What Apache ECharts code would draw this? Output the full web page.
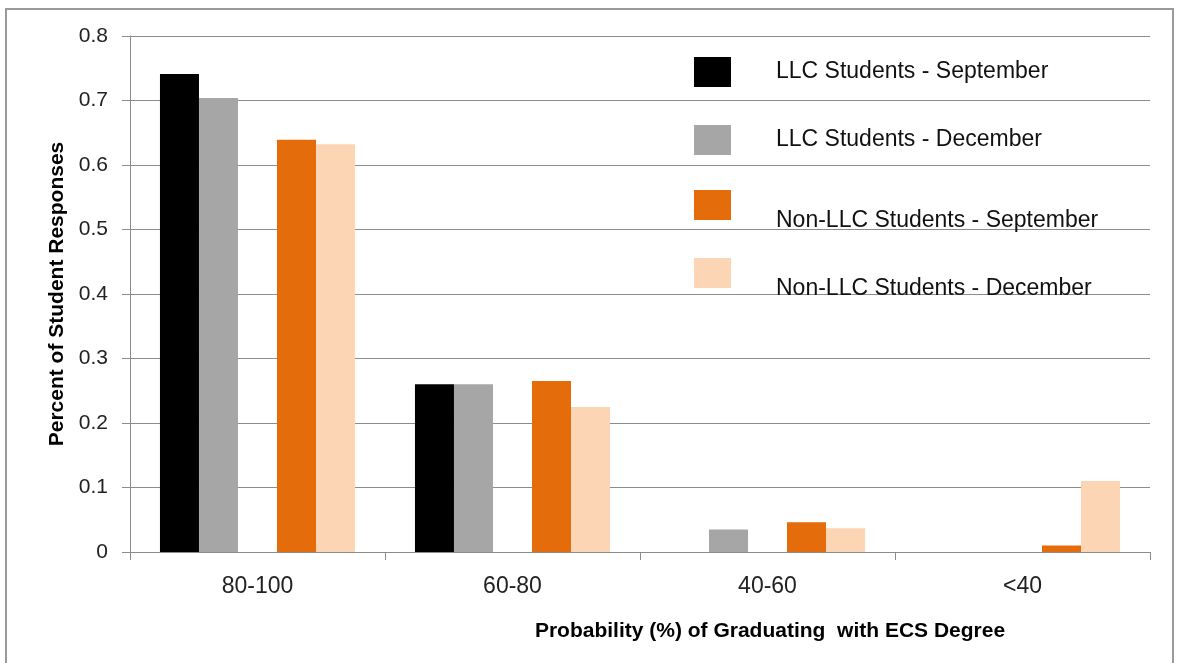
<!DOCTYPE html>
<html>
<head>
<meta charset="utf-8">
<script src="https://cdn.jsdelivr.net/npm/echarts@6/dist/echarts.min.js"></script>
<style>
  html, body { margin: 0; padding: 0; background: #fff; }
  #chart { width: 1177px; height: 663px; }
</style>
</head>
<body>
<div id="chart"></div>
<script>
// Probability bands on the x axis
const categories = ['80-100', '60-80', '40-60', '<40'];

// Share of responses per band
const llcSeptember = [0.741, 0.26, 0, 0];
const llcDecember = [0.704, 0.26, 0.035, 0];
const nonLlcSeptember = [0.639, 0.265, 0.046, 0.01];
const nonLlcDecember = [0.632, 0.225, 0.037, 0.11];

const seriesNames = [
  'LLC Students - September',
  'LLC Students - December',
  'Non-LLC Students - September',
  'Non-LLC Students - December'
];
const seriesColors = ['#000000', '#a6a6a6', '#e46c0a', '#fcd5b5'];

const FONT = '"Liberation Sans", Arial, sans-serif';
const GRID_COLOR = '#8c8c8c';

const chart = echarts.init(document.getElementById('chart'), null, { renderer: 'canvas' });

function barSeries(name, data, color) {
  return {
    name: name,
    type: 'bar',
    data: data,
    itemStyle: { color: color },
    barGap: '0%',
    barCategoryGap: '23.5%',
    emphasis: { disabled: true }
  };
}

// One legend block per series so each entry can sit at its own height;
// "lowered" entries put their label half a line below the swatch centre
function legendEntry(name, top, lowered) {
  return {
    data: [name],
    left: 694,
    top: top,
    padding: 0,
    orient: 'vertical',
    icon: 'rect',
    itemWidth: 37,
    itemHeight: 30,
    selectedMode: false,
    formatter: lowered ? function (n) { return '\n' + n; } : '{name}',
    textStyle: {
      fontFamily: FONT,
      fontSize: 23,
      lineHeight: lowered ? 32 : 28,
      color: '#111',
      padding: [0, 0, 0, 40]
    }
  };
}

const option = {
  backgroundColor: '#fff',
  animation: false,
  grid: { left: 130, right: 27, top: 36, bottom: 111, containLabel: false },
  legend: [
    legendEntry(seriesNames[0], 57, false),
    legendEntry(seriesNames[1], 125, false),
    legendEntry(seriesNames[2], 173, true),
    legendEntry(seriesNames[3], 241, true)
  ],
  title: [
    {
      text: 'Probability (%) of Graduating  with ECS Degree',
      left: 765,
      top: 616,
      textAlign: 'center',
      textStyle: { fontFamily: FONT, fontSize: 21, fontWeight: 'bold', color: '#000' }
    }
  ],
  xAxis: {
    type: 'category',
    data: categories,
    axisLine: { show: true, lineStyle: { color: GRID_COLOR, width: 1 } },
    axisTick: { show: true, length: 8, lineStyle: { color: GRID_COLOR } },
    axisLabel: { fontFamily: FONT, fontSize: 23, color: '#222', margin: 23 }
  },
  yAxis: {
    type: 'value',
    min: 0,
    max: 0.8,
    interval: 0.1,
    name: 'Percent of Student Responses',
    nameLocation: 'middle',
    nameGap: 62,
    nameRotate: 90,
    nameTextStyle: { fontFamily: FONT, fontSize: 21, fontWeight: 'bold', color: '#000' },
    axisLine: { show: true, lineStyle: { color: GRID_COLOR, width: 1 } },
    axisTick: { show: true, length: 8, lineStyle: { color: GRID_COLOR } },
    axisLabel: { fontFamily: FONT, fontSize: 21, color: '#222', margin: 22 },
    splitLine: { show: true, lineStyle: { color: GRID_COLOR, width: 1 } }
  },
  graphic: [
    {
      type: 'rect',
      shape: { x: 6, y: 9, width: 1167, height: 680 },
      style: { fill: 'none', stroke: '#9a9a9a', lineWidth: 2 },
      silent: true,
      z: 100
    }
  ],
  series: [
    barSeries(seriesNames[0], llcSeptember, seriesColors[0]),
    barSeries(seriesNames[1], llcDecember, seriesColors[1]),
    // empty slot that separates the LLC and non-LLC pairs
    barSeries('gap', categories.map(() => null), 'rgba(0,0,0,0)'),
    barSeries(seriesNames[2], nonLlcSeptember, seriesColors[2]),
    barSeries(seriesNames[3], nonLlcDecember, seriesColors[3])
  ]
};

chart.setOption(option);
</script>
</body>
</html>
